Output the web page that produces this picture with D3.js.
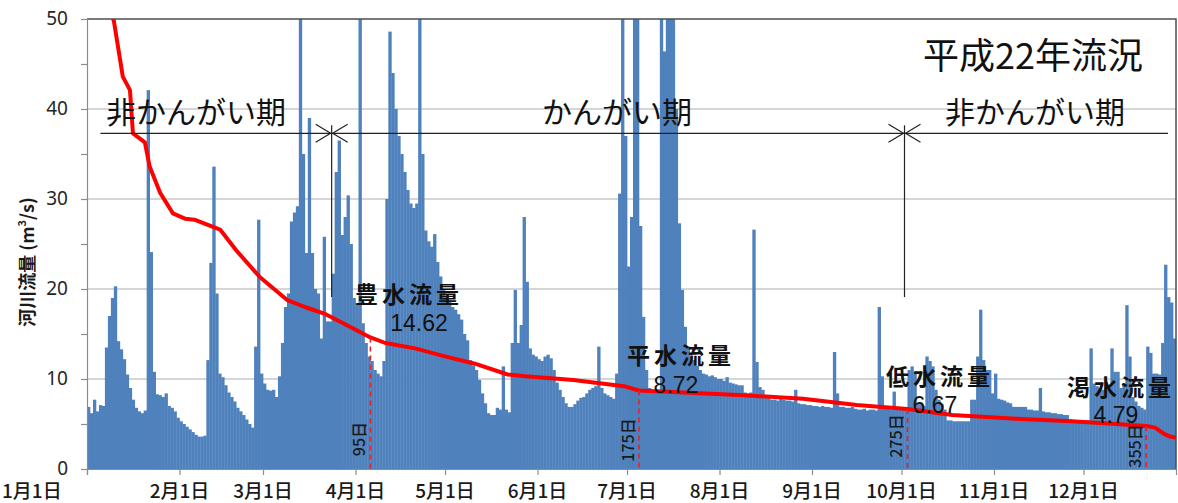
<!DOCTYPE html>
<html>
<head>
<meta charset="utf-8">
<script src="https://cdn.jsdelivr.net/npm/d3@7"></script>
<style>
  html, body { margin: 0; padding: 0; background: #ffffff; }
</style>
</head>
<body>
<script>
// daily flow (m3/s), one value per day, Jan 1 .. Dec 31
const janFlow = [6.9, 6.2, 7.7, 6.4, 7.1, 7.0, 13.5, 17.0, 19.0, 20.3, 14.2, 13.3, 12.2, 10.5, 9.0, 7.7, 6.8, 6.4, 6.2, 6.5, 42.1, 24.1, 10.8, 8.3, 8.2, 8.0, 8.4, 7.0, 6.8, 6.4, 5.7];
const febFlow = [5.3, 5.0, 4.7, 4.4, 4.1, 3.8, 3.6, 3.6, 3.7, 12.1, 22.9, 33.6, 19.5, 10.6, 10.2, 9.3, 8.5, 8.0, 7.5, 6.8, 6.4, 6.0, 5.5, 5.0, 4.6, 13.6, 27.7, 10.6];
const marFlow = [9.5, 8.8, 8.7, 8.8, 8.0, 10.3, 14.0, 18.0, 19.5, 27.5, 28.5, 29.2, 52, 35, 24, 39, 24, 20, 19.5, 14.5, 25.8, 16.4, 16.4, 21.7, 33, 36.5, 26, 28, 30.4, 25, 19];
const aprFlow = [18.4, 52, 16.2, 14, 12.5, 12, 11, 10.6, 10.3, 12, 30, 48.6, 44, 40, 37, 35, 33, 31, 29.5, 29, 29.5, 52, 35, 26.5, 25.3, 24.7, 26.1, 23, 21.4, 19.9];
const mayFlow = [19.1, 18.6, 18, 17.7, 17.2, 16.6, 15, 14.3, 12.1, 11.5, 11, 9.9, 8.4, 7.3, 6.2, 6.0, 6.0, 6.8, 6.6, 11.4, 6.6, 6.3, 14, 19.9, 14, 16, 28, 20.8, 13.4, 12.7, 12.5];
const junFlow = [12.2, 12.0, 12.5, 12.7, 12.3, 11.0, 9.6, 8.8, 8.0, 7.3, 6.9, 6.9, 7.2, 7.6, 7.9, 8.0, 8.4, 8.8, 9.0, 9.2, 13.6, 9.0, 8.4, 8.2, 8.0, 7.8, 10.6, 30.6, 52, 37];
const julFlow = [22.5, 28, 52, 52, 27, 16.9, 11, 9.0, 8.6, 8.6, 8.8, 52, 46.4, 52, 52, 52, 40, 27.3, 19.9, 15.8, 13.6, 12.5, 12.1, 11.5, 11.0, 10.6, 10.5, 10.3, 10.4, 10.2, 10.0];
const augFlow = [10.0, 9.8, 10.2, 9.6, 9.5, 9.4, 9.3, 9.3, 8.5, 8.4, 8.5, 26.6, 11.9, 9.1, 8.8, 8.0, 8.0, 7.7, 7.7, 7.6, 7.9, 7.7, 7.6, 7.6, 7.5, 8.8, 7.3, 7.2, 7.2, 7.1, 7.1];
const sepFlow = [7.0, 7.0, 6.9, 7.0, 6.9, 6.9, 6.8, 13, 8.4, 6.9, 6.9, 6.8, 6.8, 6.9, 6.7, 6.6, 6.6, 6.7, 6.5, 6.6, 6.6, 6.5, 18, 10.3, 7.0, 6.7, 6.6, 8.6, 6.7, 6.7];
const octFlow = [6.7, 6.6, 11, 11.4, 10.8, 7.3, 7.2, 7.0, 12.5, 12.0, 11.4, 8.8, 7.7, 7.2, 6.6, 5.4, 5.4, 5.3, 5.3, 5.3, 5.3, 5.3, 5.3, 7.7, 7.7, 12.5, 17.7, 12.1, 11, 11, 8.4];
const novFlow = [10.6, 7.8, 7.7, 7.6, 7.4, 7.3, 6.9, 6.9, 6.9, 6.9, 6.9, 6.6, 6.6, 6.5, 6.5, 9.0, 6.4, 6.3, 6.3, 6.2, 6.2, 6.1, 6.1, 6.0, 6.0, 5.5, 5.4, 5.4, 5.4, 5.4];
const decFlow = [5.4, 5.4, 13.4, 9.5, 9.2, 9.0, 8.8, 9.0, 9.3, 13.4, 10.8, 10.8, 9.0, 9.5, 18.2, 12.5, 8.0, 7.5, 7.0, 6.8, 6.6, 13.6, 12.9, 10.6, 10.6, 10.5, 14, 22.7, 19.1, 18.5, 14.5];

// flow duration curve: [day, m3/s]
const durationCurve = [[8.2, 51], [8.9, 50], [12, 43.6], [14.4, 42.1], [15.4, 37.3], [19.4, 36.3], [21, 33.6], [24.5, 30.7], [28.8, 28.4], [33, 27.8], [36, 27.7], [44.6, 26.6], [50, 24.3], [58, 21.3], [67, 18.8], [73, 18.0], [80, 17.2], [87, 16.0], [95, 14.62], [100, 14.0], [110, 13.4], [119, 12.6], [130, 11.7], [141, 10.5], [147, 10.3], [163, 9.9], [180, 9.2], [185, 8.72], [200, 8.5], [220, 8.2], [240, 7.8], [258, 7.1], [275, 6.67], [290, 6.0], [310, 5.6], [330, 5.3], [345, 5.0], [355, 4.79], [358, 4.6], [361, 3.9], [363, 3.6], [365, 3.5]];

const monthStartDays = [0, 31, 59, 90, 120, 151, 181, 212, 243, 273, 304, 334];
const monthLabels = ["1月1日", "2月1日", "3月1日", "4月1日", "5月1日", "6月1日", "7月1日", "8月1日", "9月1日", "10月1日", "11月1日", "12月1日"];
const yTicks = [0, 10, 20, 30, 40, 50];

// 豊水 / 平水 / 低水 / 渇水 marks
const markNames = ["豊水流量", "平水流量", "低水流量", "渇水流量"];
const markValues = [14.62, 8.72, 6.67, 4.79];
const markDays = [95, 185, 275, 355];
const markDayLabels = ["95日", "175日", "275日", "355日"];

// irrigation periods (day boundaries)
const periodBounds = [4.5, 365];
const periodSplits = [82, 274];
const periodLabels = ["非かんがい期", "かんがい期", "非かんがい期"];
const periodLevel = 37.3;

const dailyFlow = [].concat(janFlow, febFlow, marFlow, aprFlow, mayFlow, junFlow, julFlow, augFlow, sepFlow, octFlow, novFlow, decFlow);

const width = 1178;
const height = 503;
const plot = { left: 87, right: 1176, top: 19, bottom: 469 };
const jp = "'Noto Sans CJK JP', 'Noto Sans', sans-serif";

const x = d3.scaleLinear().domain([0, 365]).range([plot.left, plot.right]);
const y = d3.scaleLinear().domain([0, 50]).range([plot.bottom, plot.top]).clamp(true);

const svg = d3.select("body")
  .append("svg")
  .attr("width", width)
  .attr("height", height)
  .attr("viewBox", `0 0 ${width} ${height}`)
  .style("background", "#ffffff");

svg.append("defs")
  .append("clipPath")
  .attr("id", "plot-clip")
  .append("rect")
  .attr("x", plot.left)
  .attr("y", plot.top)
  .attr("width", plot.right - plot.left)
  .attr("height", plot.bottom - plot.top);

// horizontal gridlines
svg.append("g")
  .selectAll("line")
  .data(yTicks.filter((t) => t > 0 && t < 50))
  .join("line")
  .attr("x1", plot.left)
  .attr("x2", plot.right)
  .attr("y1", (d) => y(d))
  .attr("y2", (d) => y(d))
  .attr("stroke", "#c9c9c9")
  .attr("stroke-width", 1.5);

// daily bars
svg.append("g")
  .attr("clip-path", "url(#plot-clip)")
  .selectAll("rect")
  .data(dailyFlow)
  .join("rect")
  .attr("x", (d, i) => x(i))
  .attr("y", (d) => y(d))
  .attr("width", (d, i) => x(i + 1) - x(i) + 0.35)
  .attr("height", (d) => plot.bottom - y(d))
  .attr("fill", "#4f81bd");

// plot frame (top + right)
svg.append("path")
  .attr("d", `M${plot.left},${plot.top}H${plot.right}V${plot.bottom}`)
  .attr("fill", "none")
  .attr("stroke", "#4d4d4d")
  .attr("stroke-width", 1.5);

// axes
const yAxis = d3.axisLeft(y).tickValues(d3.range(0, 51, 5)).tickSize(6).tickFormat("");
svg.append("g")
  .attr("transform", `translate(${plot.left},0)`)
  .call(yAxis)
  .call((g) => g.selectAll("line, path").attr("stroke", "#8c8c8c").attr("stroke-width", 1.2));

svg.append("g")
  .selectAll("text")
  .data(yTicks)
  .join("text")
  .attr("x", 68)
  .attr("y", (d) => y(d) + 6)
  .attr("text-anchor", "end")
  .attr("fill", "#262626")
  .attr("font-family", "'Noto Sans', sans-serif")
  .attr("font-size", 19)
  .text((d) => d);

const xAxis = d3.axisBottom(x).tickValues(monthStartDays).tickSize(6).tickFormat("");
svg.append("g")
  .attr("transform", `translate(0,${plot.bottom})`)
  .call(xAxis)
  .call((g) => g.selectAll("line, path").attr("stroke", "#8c8c8c").attr("stroke-width", 1.2));

svg.append("g")
  .selectAll("text")
  .data(monthStartDays)
  .join("text")
  .attr("x", (d, i) => (i === 0 ? 2 : x(d)))
  .attr("y", 498)
  .attr("text-anchor", (d, i) => (i === 0 ? "start" : "middle"))
  .attr("fill", "#1a1a1a")
  .attr("font-family", jp)
  .attr("font-size", 19)
  .attr("font-weight", 500)
  .text((d, i) => monthLabels[i]);

// y axis title
const yTitle = svg.append("text")
  .attr("transform", "translate(34,262) rotate(-90)")
  .attr("text-anchor", "middle")
  .attr("fill", "#1a1a1a")
  .attr("font-family", jp)
  .attr("font-size", 18)
  .attr("font-weight", 700);
yTitle.append("tspan").text("河川流量 (m");
yTitle.append("tspan").attr("baseline-shift", "super").attr("font-size", 11).text("3");
yTitle.append("tspan").text("/s)");

// duration curve
svg.append("path")
  .datum(durationCurve)
  .attr("clip-path", "url(#plot-clip)")
  .attr("d", d3.line().x((d) => x(d[0])).y((d) => y(d[1])))
  .attr("fill", "none")
  .attr("stroke", "#ff0000")
  .attr("stroke-width", 4)
  .attr("stroke-linejoin", "round");

// dashed day markers
svg.append("g")
  .selectAll("line")
  .data(markDays)
  .join("line")
  .attr("x1", (d) => x(d))
  .attr("x2", (d) => x(d))
  .attr("y1", (d, i) => y(markValues[i]))
  .attr("y2", plot.bottom)
  .attr("stroke", "#e8202a")
  .attr("stroke-width", 1.6)
  .attr("stroke-dasharray", "5,4");

const markDayLabelY = [439, 440, 436, 446];
svg.append("g")
  .selectAll("text")
  .data(markDays)
  .join("text")
  .attr("transform", (d, i) => `translate(${x(d) - 5},${markDayLabelY[i]}) rotate(-90)`)
  .attr("text-anchor", "middle")
  .attr("fill", "#1a1a1a")
  .attr("font-family", jp)
  .attr("font-size", 16)
  .attr("font-weight", 500)
  .text((d, i) => markDayLabels[i]);

// flow names and values
const markNamePos = [[409, 303], [681, 364], [940, 385], [1121, 396]];
const markValuePos = [[419, 331], [676, 393], [935, 413], [1116, 423]];
svg.append("g")
  .selectAll("text")
  .data(markNames)
  .join("text")
  .attr("x", (d, i) => markNamePos[i][0])
  .attr("y", (d, i) => markNamePos[i][1])
  .attr("text-anchor", "middle")
  .attr("fill", "#111111")
  .attr("font-family", jp)
  .attr("font-size", 23)
  .attr("font-weight", 700)
  .attr("letter-spacing", 4)
  .text((d) => d);

svg.append("g")
  .selectAll("text")
  .data(markValues)
  .join("text")
  .attr("x", (d, i) => markValuePos[i][0])
  .attr("y", (d, i) => markValuePos[i][1])
  .attr("text-anchor", "middle")
  .attr("fill", "#111111")
  .attr("font-family", "'Liberation Sans', Arial, sans-serif")
  .attr("font-size", 23)
  .text((d) => d.toFixed(2));

// irrigation period arrows
const lineY = y(periodLevel);
svg.append("line")
  .attr("x1", x(periodBounds[0]))
  .attr("x2", x(periodBounds[1]) - 8)
  .attr("y1", lineY)
  .attr("y2", lineY)
  .attr("stroke", "#222222")
  .attr("stroke-width", 1.2);

periodSplits.forEach((day) => {
  const sx = x(day);
  svg.append("line")
    .attr("x1", sx).attr("x2", sx)
    .attr("y1", lineY - 8).attr("y2", y(19.1))
    .attr("stroke", "#222222")
    .attr("stroke-width", 1.2);
  svg.append("path")
    .attr("d", `M${sx - 16},${lineY - 9}L${sx - 1},${lineY}L${sx - 16},${lineY + 9}M${sx + 16},${lineY - 9}L${sx + 1},${lineY}L${sx + 16},${lineY + 9}`)
    .attr("fill", "none")
    .attr("stroke", "#222222")
    .attr("stroke-width", 1.2);
});

const periodLabelX = [196, 617, 1035];
svg.append("g")
  .selectAll("text")
  .data(periodLabels)
  .join("text")
  .attr("x", (d, i) => periodLabelX[i])
  .attr("y", 123)
  .attr("text-anchor", "middle")
  .attr("fill", "#111111")
  .attr("font-family", jp)
  .attr("font-size", 30)
  .text((d) => d);

svg.append("text")
  .attr("x", 1033)
  .attr("y", 69)
  .attr("text-anchor", "middle")
  .attr("fill", "#111111")
  .attr("font-family", jp)
  .attr("font-size", 36)
  .text("平成22年流況");
</script>
</body>
</html>
